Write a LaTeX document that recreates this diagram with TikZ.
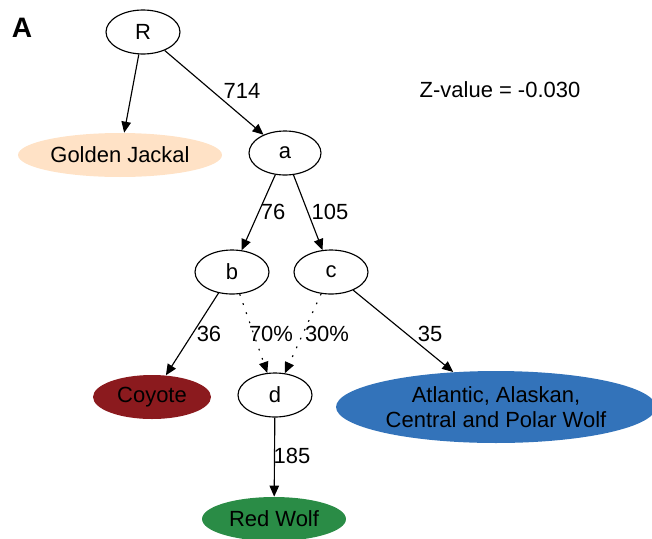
\documentclass[tikz,border=0pt]{standalone}
\usepackage{fontspec}
\setmainfont{Liberation Sans}
\usepackage{tikz}
\usetikzlibrary{shapes.geometric}
\usetikzlibrary{arrows.meta}

\definecolor{jackalfill}{HTML}{FFE2C6}
\definecolor{coyotefill}{HTML}{8B1A1E}
\definecolor{wolffill}{HTML}{3373BA}
\definecolor{redwolffill}{HTML}{2A8C46}

\begin{document}
\begin{tikzpicture}[x=0.02cm, y=-0.02cm,
        every node/.style={font=\fontsize{12.5}{14}\selectfont},
        inner/.style={ellipse, draw=black, line width=0.65pt, inner sep=0pt, minimum width=1.48cm, minimum height=0.88cm},
        leaf/.style={ellipse, inner sep=0pt, minimum height=0.88cm},
        edge/.style={line width=0.65pt, -{Triangle[length=0.22cm, width=0.19cm]}},
        admix/.style={edge, dash pattern=on 1pt off 4.5pt}]
        \useasboundingbox (0,0) rectangle (652,538);

        % panel letter and statistic
        \node[font=\fontsize{16}{18}\selectfont\bfseries] (panel) at (22, 28) {A};
        \node (zval) at (500, 90) {Z-value = -0.030};

        % internal nodes
        \node[inner] (R) at (143, 32) {R};
        \node[inner, minimum width=1.44cm] (a) at (285, 153) {a};
        \node[inner] (b) at (232, 272) {b};
        \node[inner] (c) at (331, 272) {c};
        \node[inner] (d) at (275, 395) {d};

        % sampled populations
        \node[leaf, fill=jackalfill, minimum width=4.08cm] (jackal) at (120, 155) {Golden Jackal};
        \node[leaf, fill=coyotefill, minimum width=2.36cm] (coyote) at (152, 397) {Coyote};
        \node[leaf, fill=wolffill, minimum width=6.4cm, minimum height=1.44cm, align=center] (wolf) at (496, 407) {Atlantic, Alaskan,\\Central and Polar Wolf};
        \node[leaf, fill=redwolffill, minimum width=2.88cm] (redwolf) at (274, 519) {Red Wolf};

        % drift edges
        \draw[edge] (R) -- (jackal);
        \draw[edge] (R) -- (a);
        \draw[edge] (a) -- (b);
        \draw[edge] (a) -- (c);
        \draw[edge] (b) -- (coyote);
        \draw[edge] (c) -- (wolf);
        \draw[edge] (d) -- (redwolf);

        % admixture edges
        \draw[admix] (b) -- (d);
        \draw[admix] (c) -- (d);

        % edge labels
        \node (l714) at (242, 91) {714};
        \node (l76) at (273, 212) {76};
        \node (l105) at (330, 212) {105};
        \node (l36) at (209, 334) {36};
        \node (l70) at (271, 334) {70\%};
        \node (l30) at (327, 334) {30\%};
        \node (l35) at (430, 334) {35};
        \node (l185) at (292, 456) {185};

\end{tikzpicture}
\end{document}
